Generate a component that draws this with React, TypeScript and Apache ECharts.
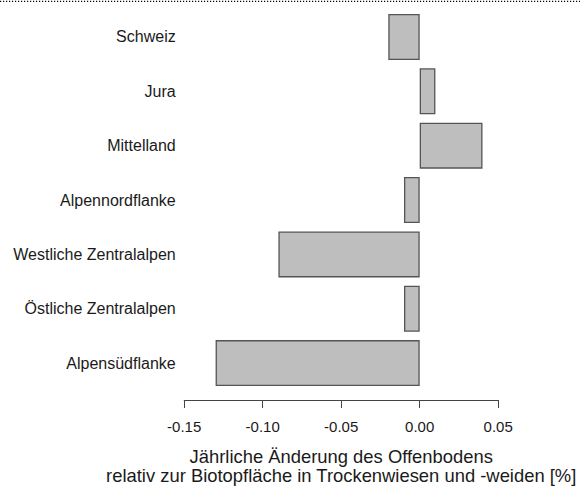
import React, { useEffect, useRef } from "react";
import * as echarts from "echarts";

const categories = [
  "Schweiz",
  "Jura",
  "Mittelland",
  "Alpennordflanke",
  "Westliche Zentralalpen",
  "Östliche Zentralalpen",
  "Alpensüdflanke",
];
const values = [-0.02, 0.01, 0.04, -0.01, -0.09, -0.01, -0.13];
const xTicks = { min: -0.15, max: 0.05, interval: 0.05 };
const axisTitle = [
  "Jährliche Änderung des Offenbodens",
  "relativ zur Biotopfläche in Trockenwiesen und -weiden [%]",
];

const FONT = "'Liberation Sans', Arial, Helvetica, sans-serif";

export default function App() {
  const ref = useRef<HTMLDivElement>(null);
  useEffect(() => {
    if (!ref.current) return;
    const chart = echarts.init(ref.current, undefined, { renderer: "svg" });
    chart.setOption({
      animation: false,
      backgroundColor: "#ffffff",
      grid: { left: 184.2, right: 81.8, top: 9.75, bottom: 94.4, containLabel: false },
      xAxis: {
        type: "value",
        min: xTicks.min,
        max: xTicks.max,
        interval: xTicks.interval,
        offset: 9.7,
        axisLine: { show: true, lineStyle: { color: "#444", width: 1 } },
        axisTick: { show: true, length: 8, lineStyle: { color: "#444", width: 1 } },
        splitLine: { show: false },
        axisLabel: {
          show: true,
          margin: 19,
          fontSize: 15,
          fontFamily: FONT,
          color: "#1a1a1a",
          showMinLabel: true,
          showMaxLabel: true,
          formatter: (v: number) => (Math.abs(v) < 1e-9 ? "0.00" : v.toFixed(2)),
        },
        name: axisTitle.join("\n"),
        nameLocation: "middle",
        nameGap: 47,
        nameTextStyle: {
          fontSize: 18.4,
          fontFamily: FONT,
          color: "#1a1a1a",
          lineHeight: 19,
        },
      },
      yAxis: {
        type: "category",
        data: categories,
        inverse: true,
        axisLine: { show: false },
        axisTick: { show: false },
        splitLine: { show: false },
        axisLabel: {
          margin: 8.5,
          fontSize: 16,
          fontFamily: FONT,
          color: "#1a1a1a",
        },
      },
      series: [
        {
          type: "bar",
          data: values,
          barWidth: 46,
          itemStyle: {
            color: "#bebebe",
            borderColor: "#555",
            borderWidth: 1.3,
          },
        },
      ],
      graphic: [
        {
          type: "line",
          shape: { x1: 0, y1: 1.3, x2: 580, y2: 1.3 },
          style: { stroke: "#000", lineWidth: 1.2, lineDash: [1.2, 1.8] },
          silent: true,
        },
      ],
    });
    return () => chart.dispose();
  }, []);
  return (
    <div
      ref={ref}
      style={{ position: "absolute", left: 0, top: 0, width: 580, height: 490 }}
    />
  );
}
